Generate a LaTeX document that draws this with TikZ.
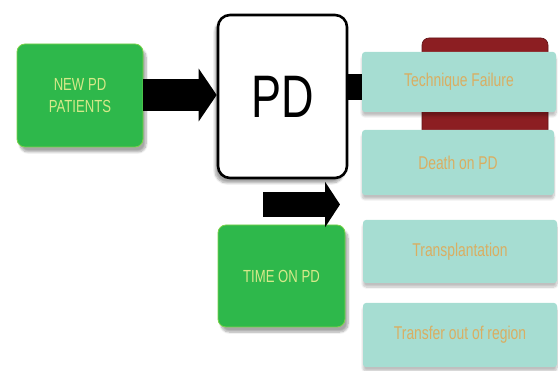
\documentclass[tikz,border=0pt]{standalone}
\usepackage{fontspec}
\setmainfont{Liberation Sans}
\newfontfamily\condfont[FakeStretch=0.75]{Liberation Sans}
\usetikzlibrary{arrows.meta,shadows.blur}
\definecolor{boxgreen}{HTML}{2EB84B}
\definecolor{greenedge}{HTML}{7BD24A}
\definecolor{greentext}{HTML}{D6E98A}
\definecolor{tealfill}{HTML}{A6DDD2}
\definecolor{tealtext}{HTML}{D9AE62}
\definecolor{darkred}{HTML}{8C1E22}
\tikzset{
  greenbox/.style={draw=greenedge, line width=0.8pt, fill=boxgreen, rounded corners=8pt,
    text=greentext, font=\condfont\fontsize{17.5}{22}\selectfont, align=center,
    blur shadow={shadow xshift=3pt, shadow yshift=-5pt, shadow opacity=35, shadow blur steps=8}},
  pdbox/.style={draw=black, line width=2.6pt, fill=white, rounded corners=12pt,
    font=\condfont\fontsize{60}{60}\selectfont,
    blur shadow={shadow xshift=-3pt, shadow yshift=-5pt, shadow opacity=35, shadow blur steps=8}},
  tealbox/.style={fill=tealfill, rounded corners=3pt, text=tealtext,
    font=\condfont\fontsize{18.5}{20}\selectfont,
    blur shadow={shadow xshift=0pt, shadow yshift=-4pt, shadow opacity=25, shadow blur steps=8}},
  redbox/.style={draw=darkred!70!black, line width=0.6pt, fill=darkred, rounded corners=7pt},
  blockarrow/.style={line width=#1, draw=black}
}
\begin{document}
\begin{tikzpicture}[x=1pt,y=-1pt]
\useasboundingbox (0,0) rectangle (558,371);
% red box behind
\node[redbox, minimum width=126pt, minimum height=99pt] (red) at (485,87.5) {};
% main nodes
\node[greenbox, minimum width=126pt, minimum height=103pt] (new) at (80,95.5) {NEW PD\\PATIENTS};
\node[pdbox, minimum width=129pt, minimum height=163pt] (pd) at (282.5,96.5) {PD};
\node[greenbox, minimum width=127pt, minimum height=102pt] (time) at (281.5,276) {TIME ON PD};
% connectors
\draw[blockarrow=32pt, -{Triangle[length=18pt,width=52pt]}] (new.east |- 0,95) -- (pd.west |- 0,95);
\coordinate (a2s) at (263,204.5);
\coordinate (a2e) at (340,204.5);
\draw[blockarrow=25pt, -{Triangle[length=15pt,width=45pt]}] (a2s) -- (a2e);
% teal outcome boxes
\node[tealbox, minimum width=194pt, minimum height=60pt] (tf) at (459,82) {\raisebox{-2pt}{Technique Failure}};
\draw[blockarrow=26pt] (pd.east |- 0,87.5) -- (tf.west |- 0,87.5);
\node[tealbox, minimum width=192pt, minimum height=65pt] (death) at (458,162.5) {Death on PD};
\node[tealbox, minimum width=194pt, minimum height=63pt] (trans) at (460,251.5) {Transplantation};
\node[tealbox, minimum width=194pt, minimum height=64pt] (transfer) at (460,335) {Transfer out of region};
\end{tikzpicture}
\end{document}
